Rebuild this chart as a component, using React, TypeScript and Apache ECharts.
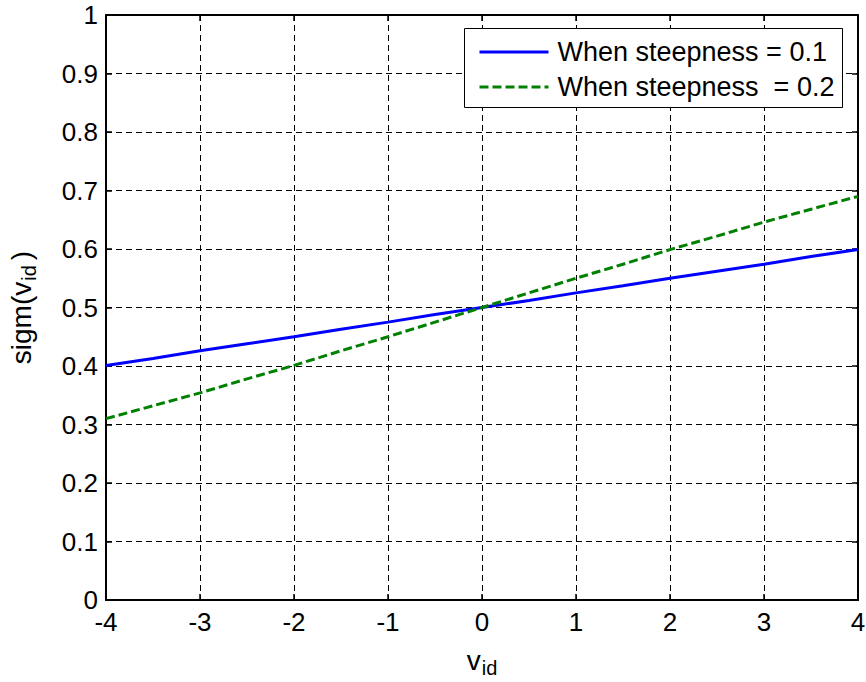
import React, { useEffect, useRef } from "react";
import * as echarts from "echarts";

const xValues = [-4, -3.5, -3, -2.5, -2, -1.5, -1, -0.5, 0, 0.5, 1, 1.5, 2, 2.5, 3, 3.5, 4];
const steep01 = [0.401, 0.413, 0.426, 0.438, 0.450, 0.463, 0.475, 0.488, 0.5, 0.512, 0.525, 0.537, 0.550, 0.562, 0.574, 0.587, 0.599];
const steep02 = [0.310, 0.332, 0.354, 0.378, 0.401, 0.426, 0.450, 0.475, 0.5, 0.525, 0.550, 0.574, 0.599, 0.622, 0.646, 0.668, 0.690];
const seriesNames = ["When steepness = 0.1", "When steepness  = 0.2"];

const FONT = "Liberation Sans, Arial, sans-serif";

export default function App() {
  const ref = useRef<HTMLDivElement>(null);
  useEffect(() => {
    if (!ref.current) return;
    const chart = echarts.init(ref.current, null, { renderer: "svg" });
    const gridLine = { show: true, lineStyle: { color: "#000", type: [6, 4] as any, width: 1 } };
    const axisLine = { show: true, onZero: false, lineStyle: { color: "#000", width: 2 } };
    const axisTick = { show: true, inside: true, length: 6, lineStyle: { color: "#000", width: 1.5 } };
    const label = { color: "#000", fontSize: 26, fontFamily: FONT };
    const nameRich = {
      a: { fontSize: 28, color: "#000", fontFamily: FONT, lineHeight: 30 },
      b: { fontSize: 20, color: "#000", fontFamily: FONT, padding: [16, 0, 0, 1] },
      c: { fontSize: 28, color: "#000", fontFamily: FONT, lineHeight: 30, padding: [0, 0, 0, 5] },
    };
    chart.setOption({
      animation: false,
      backgroundColor: "#fff",
      textStyle: { fontFamily: FONT },
      grid: { left: 106, right: 8, top: 15, bottom: 82, containLabel: false, outerBoundsMode: "none" },
      graphic: [
        {
          type: "rect",
          left: 464,
          top: 28,
          shape: { width: 378, height: 79 },
          style: { fill: "#fff", stroke: "#000", lineWidth: 1 },
          z: 50,
        },
      ],
      legend: {
        left: 478,
        top: 37,
        orient: "vertical",
        padding: 0,
        itemWidth: 69,
        itemHeight: 14,
        itemGap: 5,
        z: 60,
        itemStyle: { opacity: 0 },
        lineStyle: { width: 3 },
        textStyle: { color: "#000", fontSize: 27, fontFamily: FONT, lineHeight: 30, padding: [0, 0, 0, 4] },
        data: seriesNames,
      },
      xAxis: [
        {
          type: "value",
          min: -4,
          max: 4,
          interval: 1,
          axisLine,
          axisTick,
          splitLine: gridLine,
          axisLabel: { ...label, margin: 9 },
          name: "{a|v}{b|id}",
          nameLocation: "middle",
          nameGap: 42,
          nameTextStyle: { rich: nameRich },
        },
        {
          type: "value",
          position: "top",
          min: -4,
          max: 4,
          interval: 1,
          axisLine,
          axisTick,
          splitLine: { show: false },
          axisLabel: { show: false },
        },
      ],
      yAxis: [
        {
          type: "value",
          min: 0,
          max: 1,
          interval: 0.1,
          axisLine,
          axisTick,
          splitLine: gridLine,
          axisLabel: { ...label, margin: 8 },
          name: "{a|sigm(v}{b|id}{c|)}",
          nameLocation: "middle",
          nameRotate: 90,
          nameGap: 67,
          nameTextStyle: { rich: nameRich },
        },
        {
          type: "value",
          position: "right",
          min: 0,
          max: 1,
          interval: 0.1,
          axisLine,
          axisTick,
          splitLine: { show: false },
          axisLabel: { show: false },
        },
      ],
      series: [
        {
          name: seriesNames[0],
          type: "line",
          data: xValues.map((x, i) => [x, steep01[i]]),
          showSymbol: false,
          symbol: "none",
          lineStyle: { color: "#0000ff", width: 3 },
          itemStyle: { color: "#0000ff" },
        },
        {
          name: seriesNames[1],
          type: "line",
          data: xValues.map((x, i) => [x, steep02[i]]),
          showSymbol: false,
          symbol: "none",
          lineStyle: { color: "#008000", width: 3, type: [9, 4] as any },
          itemStyle: { color: "#008000" },
        },
      ],
    });
    return () => chart.dispose();
  }, []);
  return <div ref={ref} style={{ width: 866, height: 682, position: "absolute", left: 0, top: 0 }} />;
}
